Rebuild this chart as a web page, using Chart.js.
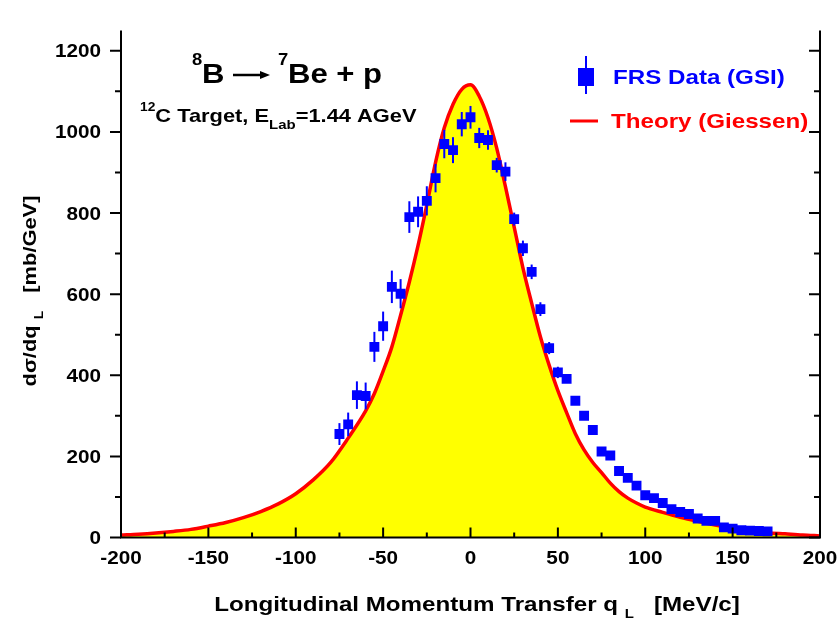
<!DOCTYPE html>
<html>
<head>
<meta charset="utf-8">
<script src="https://cdn.jsdelivr.net/npm/chart.js@4/dist/chart.umd.min.js"></script>
<style>
  html, body { margin: 0; padding: 0; background: #fff; }
</style>
</head>
<body>
<canvas id="chart" width="839" height="621"></canvas>
<script>
// measured points (FRS data, GSI)
const dataQ = [-75, -70, -65, -60, -55, -50, -45, -40, -35, -30,
               -25, -20, -15, -10, -5, 0, 5, 10, 15, 20,
               25, 30, 35, 40, 45, 50, 55, 60, 65, 70,
               75, 80, 85, 90, 95, 100, 105, 110, 115, 120,
               125, 130, 135, 140, 145, 150, 155, 160, 165, 170];
const dataSigma = [255, 279, 351, 349, 470, 521, 618, 601, 790, 803,
                   830, 886, 970, 955, 1019, 1036, 985, 980, 918, 902,
                   785, 713, 655, 563, 467, 407, 391, 337, 300, 265,
                   212, 202, 164, 147, 128, 104, 97, 85, 70, 63,
                   58, 47, 41, 41, 25, 22, 18, 17, 16, 15];
const dataErr = [27, 29, 34, 33, 37, 36, 40, 36, 39, 38,
                 36, 35, 35, 32, 30, 28, 25, 24, 18, 23,
                 16, 19, 18, 17, 15, 14, 10, 9, 10, 9,
                 8, 8, 8, 7, 7, 7, 6, 6, 6, 6,
                 5, 5, 5, 5, 5, 4, 4, 4, 4, 4];

// theory curve (Giessen)
const theoryQ = [-200, -190, -180, -170, -160, -150, -140, -130, -120, -110,
                 -100, -90, -80, -70, -60, -55, -50, -45, -40, -35,
                 -30, -25, -20, -15, -10, -5, 0, 5, 10, 15,
                 20, 25, 30, 35, 40, 45, 50, 55, 60, 65,
                 70, 75, 80, 85, 90, 95, 100, 110, 120, 130,
                 140, 150, 160, 170, 180, 190, 200];
const theorySigma = [6, 8, 11, 15, 20, 28, 37, 49, 64, 83,
                     108, 142, 185, 245, 312, 355, 410, 470, 548, 630,
                     720, 820, 925, 1010, 1068, 1105, 1116, 1088, 1035, 960,
                     865, 765, 665, 578, 495, 425, 362, 308, 256, 216,
                     185, 160, 134, 113, 97, 85, 75, 62, 50, 40,
                     31, 23, 17, 12, 9, 6, 4];

const xTicks = [-200, -150, -100, -50, 0, 50, 100, 150, 200];
const xMinor = [-175, -125, -75, -25, 25, 75, 125, 175];
const yTicks = [0, 200, 400, 600, 800, 1000, 1200];
const yMinor = [100, 300, 500, 700, 900, 1100];

const FONT = '"Liberation Sans", Arial, sans-serif';
const SX = 1.15; // text in the original is a bit wide

function drawParts(ctx, parts, x, y, align, color, angle) {
    let w = 0;
    parts.forEach(p => {
        ctx.font = 'bold ' + p[1] + 'px ' + FONT;
        p.w = ctx.measureText(p[0]).width;
        w += p.w;
    });
    ctx.save();
    ctx.translate(x, y);
    if (angle) ctx.rotate(angle);
    ctx.scale(SX, 1);
    ctx.fillStyle = color || '#000';
    ctx.textAlign = 'left';
    ctx.textBaseline = 'alphabetic';
    let cx = align === 'center' ? -w / 2 : (align === 'right' ? -w : 0);
    parts.forEach(p => {
        ctx.font = 'bold ' + p[1] + 'px ' + FONT;
        ctx.fillText(p[0], cx, p[2] || 0);
        cx += p.w;
    });
    ctx.restore();
}

const errorBars = {
    id: 'errorBars',
    beforeDatasetDraw(chart, args) {
        if (args.index !== 0) return;
        const ctx = chart.ctx;
        const xs = chart.scales.x, ys = chart.scales.y;
        ctx.save();
        ctx.strokeStyle = '#0000ff';
        ctx.lineWidth = 2;
        dataQ.forEach((q, i) => {
            const px = xs.getPixelForValue(q);
            ctx.beginPath();
            ctx.moveTo(px, ys.getPixelForValue(dataSigma[i] - dataErr[i]));
            ctx.lineTo(px, ys.getPixelForValue(dataSigma[i] + dataErr[i]));
            ctx.stroke();
        });
        ctx.restore();
    }
};

const frame = {
    id: 'frame',
    afterDraw(chart) {
        const ctx = chart.ctx;
        const a = chart.chartArea;
        const xs = chart.scales.x, ys = chart.scales.y;
        ctx.save();
        ctx.strokeStyle = '#000';
        ctx.lineWidth = 2;
        ctx.beginPath();
        ctx.moveTo(a.left, a.top);
        ctx.lineTo(a.left, a.bottom);
        ctx.lineTo(a.right, a.bottom);
        ctx.lineTo(a.right, a.top);
        ctx.stroke();

        ctx.beginPath();
        // left axis: ticks outward, right axis: ticks inward
        yTicks.forEach(v => {
            const py = ys.getPixelForValue(v);
            ctx.moveTo(a.left - 11, py); ctx.lineTo(a.left, py);
            ctx.moveTo(a.right - 11, py); ctx.lineTo(a.right, py);
        });
        yMinor.forEach(v => {
            const py = ys.getPixelForValue(v);
            ctx.moveTo(a.left - 6, py); ctx.lineTo(a.left, py);
            ctx.moveTo(a.right - 6, py); ctx.lineTo(a.right, py);
        });
        // bottom axis: ticks inward
        xTicks.forEach(v => {
            const px = xs.getPixelForValue(v);
            ctx.moveTo(px, a.bottom); ctx.lineTo(px, a.bottom - 10);
        });
        xMinor.forEach(v => {
            const px = xs.getPixelForValue(v);
            ctx.moveTo(px, a.bottom); ctx.lineTo(px, a.bottom - 5);
        });
        ctx.stroke();
        ctx.restore();

        // tick labels
        yTicks.forEach(v => {
            drawParts(ctx, [[String(v), 18]], a.left - 20, ys.getPixelForValue(v) + 6.5, 'right');
        });
        xTicks.forEach(v => {
            drawParts(ctx, [[String(v), 18]], xs.getPixelForValue(v), 564, 'center');
        });

        // axis titles
        drawParts(ctx, [['Longitudinal Momentum Transfer q ', 21], ['L', 13, 7], ['   [MeV/c]', 21]],
                  477, 611, 'center');
        drawParts(ctx, [['d\u03c3/dq ', 19], ['L', 12, 7], ['   [mb/GeV]', 19]],
                  36, 291, 'center', '#000', -Math.PI / 2);

        // reaction label
        drawParts(ctx, [['8', 16]], 192, 65, 'left');
        drawParts(ctx, [['B', 27]], 202, 83, 'left');
        ctx.save();
        ctx.strokeStyle = '#000';
        ctx.fillStyle = '#000';
        ctx.lineWidth = 2.5;
        ctx.beginPath(); ctx.moveTo(233, 75); ctx.lineTo(262, 75); ctx.stroke();
        ctx.beginPath(); ctx.moveTo(260, 71); ctx.lineTo(270, 75); ctx.lineTo(260, 79); ctx.closePath(); ctx.fill();
        ctx.restore();
        drawParts(ctx, [['7', 16]], 278, 65, 'left');
        drawParts(ctx, [['Be + p', 27]], 288, 83, 'left');
        drawParts(ctx, [['12', 12, -11], ['C Target, E', 19], ['Lab', 13, 7], ['=1.44 AGeV', 19]], 140, 122, 'left');

        // legend
        ctx.save();
        ctx.fillStyle = '#0000ff';
        ctx.strokeStyle = '#0000ff';
        ctx.lineWidth = 2;
        ctx.fillRect(578, 68, 16, 18);
        ctx.beginPath(); ctx.moveTo(586, 56); ctx.lineTo(586, 94); ctx.stroke();
        ctx.strokeStyle = '#ff0000';
        ctx.lineWidth = 3;
        ctx.beginPath(); ctx.moveTo(570, 121); ctx.lineTo(598, 121); ctx.stroke();
        ctx.restore();
        drawParts(ctx, [['FRS Data (GSI)', 21]], 613, 84, 'left', '#0000ff');
        drawParts(ctx, [['Theory (Giessen)', 21]], 611, 128, 'left', '#ff0000');
    }
};

new Chart(document.getElementById('chart'), {
    type: 'scatter',
    data: {
        datasets: [
            {
                label: 'FRS Data (GSI)',
                data: dataQ.map((q, i) => ({ x: q, y: dataSigma[i] })),
                pointStyle: 'rect',
                pointRadius: 7,
                backgroundColor: '#0000ff',
                borderColor: '#0000ff',
                borderWidth: 0,
                showLine: false
            },
            {
                type: 'line',
                label: 'Theory (Giessen)',
                data: theoryQ.map((q, i) => ({ x: q, y: theorySigma[i] })),
                borderColor: '#ff0000',
                borderWidth: 3.5,
                backgroundColor: '#ffff00',
                fill: 'origin',
                pointRadius: 0,
                cubicInterpolationMode: 'monotone'
            }
        ]
    },
    options: {
        responsive: false,
        animation: false,
        layout: { padding: { left: 0, right: 19, top: 30.5, bottom: 0 } },
        plugins: { legend: { display: false }, tooltip: { enabled: false } },
        scales: {
            x: {
                type: 'linear', min: -200, max: 200,
                grid: { display: false }, border: { display: false },
                ticks: { display: false },
                afterBuildTicks(s) { s.ticks = xTicks.map(v => ({ value: v })); },
                afterFit(s) { s.height = 83.5; }
            },
            y: {
                type: 'linear', min: 0, max: 1250,
                grid: { display: false }, border: { display: false },
                ticks: { display: false },
                afterBuildTicks(s) { s.ticks = yTicks.map(v => ({ value: v })); },
                afterFit(s) { s.width = 121; }
            }
        }
    },
    plugins: [errorBars, frame]
});
</script>
</body>
</html>
